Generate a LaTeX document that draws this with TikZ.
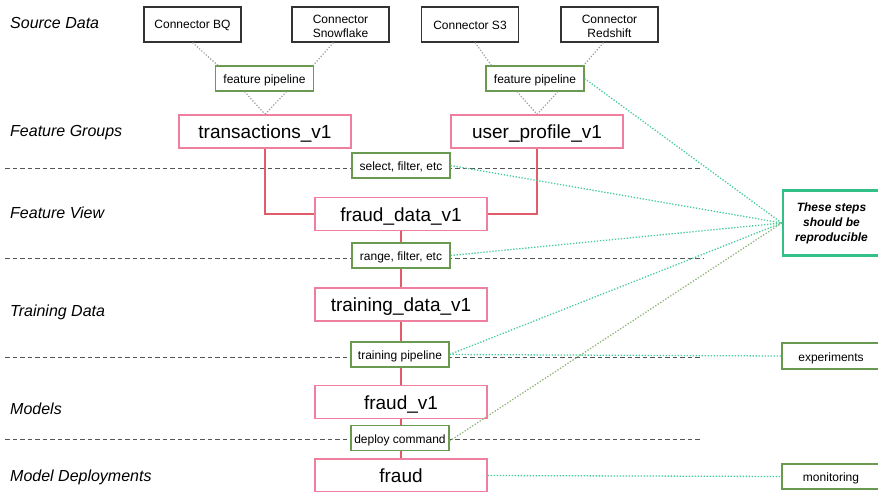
\documentclass[tikz,border=0pt]{standalone}
\usepackage{fontspec}
\setmainfont{Liberation Sans}
\usetikzlibrary{backgrounds}
\definecolor{pinkB}{HTML}{EE7F9F}
\definecolor{redL}{HTML}{E05C68}
\definecolor{pipeG}{HTML}{6A9A50}
\definecolor{tealL}{HTML}{45CC98}
\definecolor{tealB}{HTML}{33BF88}
\definecolor{oliveL}{HTML}{8FB47A}
\definecolor{grayD}{HTML}{9A9A9A}
\definecolor{dashC}{HTML}{555555}
\tikzset{
  conn/.style={draw=black!80, line width=1.1pt, fill=white, minimum width=97pt, minimum height=35pt, inner sep=0pt, align=center, font=\fontsize{12}{14}\selectfont},
  pipe/.style={draw=pipeG, line width=1.1pt, fill=white, minimum width=98pt, minimum height=25pt, inner sep=0pt, text height=10.5pt, text depth=0.5pt, font=\fontsize{12}{14}\selectfont},
  fgbox/.style={draw=pinkB, line width=1.4pt, fill=white, minimum width=172pt, minimum height=33pt, inner sep=0pt, text height=14pt, text depth=0pt, font=\fontsize{19}{22}\selectfont},
  lane/.style={anchor=base west, inner sep=0pt, font=\fontsize{16}{18}\selectfont\itshape},
  sidebox/.style={draw=pipeG, line width=1.1pt, fill=white, minimum width=98pt, inner sep=0pt, text height=10.5pt, text depth=0.5pt, font=\fontsize{12}{14}\selectfont},
  graydot/.style={draw=grayD, line width=1.2pt, dash pattern=on 1.2pt off 1.8pt},
  tealdot/.style={draw=tealL, line width=1.3pt, dash pattern=on 1.3pt off 1.7pt},
  olivedot/.style={draw=oliveL, line width=1.3pt, dash pattern=on 1.3pt off 1.7pt},
  redline/.style={draw=redL, line width=1.1pt},
  lanedash/.style={draw=dashC, line width=0.8pt, dash pattern=on 4.5pt off 3pt},
}
\begin{document}
\begin{tikzpicture}[x=1pt,y=-1pt]
\useasboundingbox (0,0) rectangle (878,492);
\clip (0,0) rectangle (878,492);

% lane labels
\node[lane] (l1) at (10,29) {Source Data};
\node[lane] (l2) at (10,136) {Feature Groups};
\node[lane] (l3) at (10,218) {Feature View};
\node[lane] (l4) at (10,316) {Training Data};
\node[lane] (l5) at (10,414) {Models};
\node[lane] (l6) at (10,481) {Model Deployments};

% connectors
\node[conn] (bq) at (192.5,24.5) {\rule{0pt}{11pt}Connector BQ};
\node[conn] (sf) at (340.5,24.5) {\rule{0pt}{12pt}Connector\\Snowflake};
\node[conn] (s3) at (470,24.5) {\rule{0pt}{11pt}Connector S3};
\node[conn] (rs) at (609.5,24.5) {\rule{0pt}{12pt}Connector\\Redshift};

% feature pipelines
\node[pipe] (fp1) at (264.5,78.5) {feature pipeline};
\node[pipe] (fp2) at (535,78.5) {feature pipeline};

% feature groups etc
\node[fgbox] (tx) at (265,131.5) {transactions\_v1};
\node[fgbox] (up) at (537,131.5) {user\_profile\_v1};
\node[pipe] (sel) at (401,165.5) {select, filter, etc};
\node[fgbox] (fd) at (401,214) {fraud\_data\_v1};
\node[pipe] (rng) at (401,255.5) {range, filter, etc};
\node[fgbox] (td) at (401,304.5) {training\_data\_v1};
\node[pipe] (tp) at (400,354.5) {training pipeline};
\node[fgbox] (fv) at (401,402) {fraud\_v1};
\node[pipe] (dc) at (400,438) {deploy command};
\node[fgbox] (fr) at (401,475.5) {fraud};

% right boxes
\node[draw=tealB, line width=2.4pt, fill=white, minimum width=97pt, minimum height=65pt, inner sep=0pt, align=center,
      font=\fontsize{12}{15}\selectfont\bfseries\itshape] (steps) at (831.5,223) {These steps\\should be\\reproducible};
\node[sidebox, minimum height=26pt] (exp) at (831,356) {experiments};
\node[sidebox, minimum height=25pt] (mon) at (831,476.5) {monitoring};

% lane separators
\coordinate (d1a) at (5,168); \coordinate (d1b) at (700,168);
\coordinate (d2a) at (5,258); \coordinate (d2b) at (703,258);
\coordinate (d3a) at (5,357); \coordinate (d3b) at (700,357);
\coordinate (d4a) at (5,439); \coordinate (d4b) at (700,439);

\begin{scope}[on background layer]
  \draw[lanedash] (d1a) -- (d1b);
  \draw[lanedash] (d2a) -- (d2b);
  \draw[lanedash] (d3a) -- (d3b);
  \draw[lanedash] (d4a) -- (d4b);
  % red lineage
  \draw[redline] (tx.south) |- (fd.west);
  \draw[redline] (up.south) |- (fd.east);
  \draw[redline] (fd.south) -- (fr.north);
\end{scope}

% source dotted lines
\draw[graydot] (bq.south) -- ([xshift=3pt]fp1.north west);
\draw[graydot] ([xshift=-7pt]sf.south) -- ([xshift=-1pt]fp1.north east);
\draw[graydot] ([xshift=-20pt]fp1.south) -- (tx.north);
\draw[graydot] ([xshift=22pt]fp1.south) -- (tx.north);
\draw[graydot] ([xshift=5pt]s3.south) -- ([xshift=6pt]fp2.north west);
\draw[graydot] ([xshift=-6pt]rs.south) -- ([xshift=-1pt]fp2.north east);
\draw[graydot] ([xshift=-18pt]fp2.south) -- (up.north);
\draw[graydot] ([xshift=23pt]fp2.south) -- (up.north);

% reproducibility links
\draw[tealdot] (fp2.east) -- (steps.west);
\draw[tealdot] (sel.east) -- (steps.west);
\draw[tealdot] (rng.east) -- (steps.west);
\draw[tealdot] (tp.east) -- (steps.west);
\draw[olivedot] ([yshift=-3pt]dc.east) -- (steps.west);
\draw[tealdot] (tp.east) -- (exp.west);
\draw[tealdot] (fr.east) -- (mon.west);
\end{tikzpicture}
\end{document}
